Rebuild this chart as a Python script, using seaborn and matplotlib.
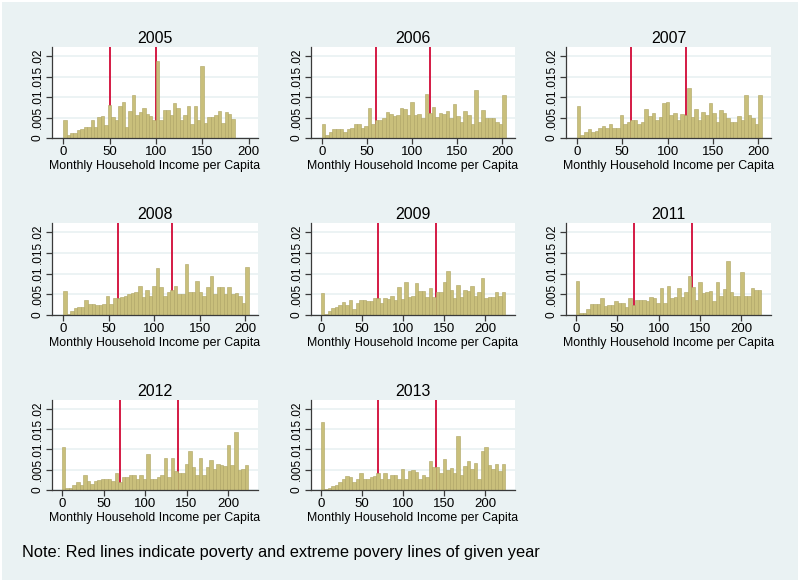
import numpy as np
import pandas as pd
import seaborn as sns
import matplotlib.pyplot as plt
from matplotlib.patches import Rectangle

# bar heights (density), one list per survey year
d2005 = [0.0043, 0.0007, 0.0012, 0.0012, 0.0019, 0.0022, 0.0027, 0.0028, 0.0043, 0.0028,
         0.0052, 0.0054, 0.0032, 0.0081, 0.0051, 0.0045, 0.0078, 0.0087, 0.0028, 0.0066,
         0.0106, 0.0056, 0.0063, 0.0074, 0.0058, 0.0053, 0.0045, 0.0189, 0.0045, 0.0069,
         0.0069, 0.0056, 0.0085, 0.0074, 0.0045, 0.0056, 0.0079, 0.0035, 0.0077, 0.0043,
         0.0175, 0.0037, 0.0051, 0.0051, 0.0056, 0.0066, 0.0036, 0.0063, 0.0059, 0.0046]
d2006 = [0.0033, 0.0008, 0.0015, 0.0022, 0.0022, 0.0022, 0.0015, 0.0022, 0.0025, 0.0035,
         0.0033, 0.0025, 0.0030, 0.0072, 0.0035, 0.0043, 0.0043, 0.0048, 0.0063, 0.0058,
         0.0053, 0.0055, 0.0073, 0.0071, 0.0055, 0.0088, 0.0055, 0.0058, 0.0048, 0.0107,
         0.0060, 0.0075, 0.0051, 0.0060, 0.0058, 0.0065, 0.0048, 0.0083, 0.0053, 0.0038,
         0.0065, 0.0055, 0.0035, 0.0116, 0.0038, 0.0068, 0.0048, 0.0050, 0.0050, 0.0038,
         0.0033, 0.0106]
d2007 = [0.0077, 0.0008, 0.0015, 0.0023, 0.0015, 0.0018, 0.0025, 0.0030, 0.0025, 0.0033,
         0.0025, 0.0025, 0.0056, 0.0035, 0.0040, 0.0045, 0.0045, 0.0035, 0.0040, 0.0071,
         0.0053, 0.0061, 0.0043, 0.0051, 0.0085, 0.0087, 0.0055, 0.0061, 0.0043, 0.0058,
         0.0055, 0.0123, 0.0051, 0.0071, 0.0045, 0.0063, 0.0055, 0.0085, 0.0060, 0.0040,
         0.0068, 0.0060, 0.0048, 0.0040, 0.0040, 0.0053, 0.0043, 0.0104, 0.0055, 0.0048,
         0.0033, 0.0106]
d2008 = [0.0058, 0.0003, 0.0010, 0.0017, 0.0019, 0.0019, 0.0035, 0.0027, 0.0027, 0.0025,
         0.0023, 0.0027, 0.0047, 0.0027, 0.0040, 0.0041, 0.0043, 0.0047, 0.0051, 0.0053,
         0.0055, 0.0071, 0.0043, 0.0061, 0.0047, 0.0071, 0.0113, 0.0067, 0.0045, 0.0055,
         0.0060, 0.0070, 0.0050, 0.0051, 0.0123, 0.0055, 0.0055, 0.0081, 0.0055, 0.0045,
         0.0067, 0.0095, 0.0051, 0.0067, 0.0067, 0.0051, 0.0067, 0.0051, 0.0053, 0.0045,
         0.0030, 0.0115]
d2009 = [0.0053, 0.0003, 0.0010, 0.0017, 0.0020, 0.0025, 0.0032, 0.0023, 0.0035, 0.0015,
         0.0030, 0.0035, 0.0035, 0.0033, 0.0033, 0.0040, 0.0040, 0.0028, 0.0040, 0.0038,
         0.0045, 0.0035, 0.0068, 0.0038, 0.0080, 0.0043, 0.0047, 0.0077, 0.0057, 0.0057,
         0.0043, 0.0065, 0.0043, 0.0055, 0.0055, 0.0080, 0.0105, 0.0060, 0.0040, 0.0073,
         0.0043, 0.0060, 0.0057, 0.0070, 0.0045, 0.0055, 0.0090, 0.0040, 0.0043, 0.0043,
         0.0055, 0.0045, 0.0055]
d2011 = [0.0082, 0.0005, 0.0005, 0.0015, 0.0027, 0.0027, 0.0027, 0.0040, 0.0022, 0.0025,
         0.0025, 0.0033, 0.0030, 0.0030, 0.0020, 0.0040, 0.0025, 0.0037, 0.0035, 0.0035,
         0.0033, 0.0043, 0.0040, 0.0030, 0.0065, 0.0030, 0.0070, 0.0040, 0.0043, 0.0065,
         0.0043, 0.0055, 0.0093, 0.0068, 0.0037, 0.0080, 0.0052, 0.0055, 0.0058, 0.0033,
         0.0080, 0.0045, 0.0062, 0.0130, 0.0055, 0.0047, 0.0047, 0.0103, 0.0047, 0.0045,
         0.0065, 0.0060, 0.0060]
d2012 = [0.0106, 0.0005, 0.0005, 0.0013, 0.0020, 0.0013, 0.0036, 0.0023, 0.0016, 0.0023,
         0.0025, 0.0028, 0.0028, 0.0028, 0.0023, 0.0041, 0.0020, 0.0031, 0.0033, 0.0038,
         0.0038, 0.0028, 0.0038, 0.0026, 0.0090, 0.0028, 0.0028, 0.0033, 0.0038, 0.0080,
         0.0033, 0.0080, 0.0046, 0.0043, 0.0043, 0.0065, 0.0095, 0.0057, 0.0036, 0.0080,
         0.0038, 0.0057, 0.0075, 0.0052, 0.0065, 0.0062, 0.0059, 0.0110, 0.0062, 0.0143,
         0.0049, 0.0052, 0.0062]
d2013 = [0.0167, 0.0003, 0.0005, 0.0010, 0.0013, 0.0020, 0.0028, 0.0034, 0.0031, 0.0020,
         0.0026, 0.0041, 0.0026, 0.0026, 0.0033, 0.0034, 0.0041, 0.0026, 0.0043, 0.0028,
         0.0038, 0.0036, 0.0026, 0.0053, 0.0028, 0.0046, 0.0049, 0.0045, 0.0028, 0.0038,
         0.0031, 0.0071, 0.0057, 0.0057, 0.0041, 0.0077, 0.0049, 0.0054, 0.0043, 0.0133,
         0.0038, 0.0060, 0.0071, 0.0052, 0.0067, 0.0028, 0.0095, 0.0105, 0.0062, 0.0052,
         0.0065, 0.0046, 0.0065]

years = ["2005", "2006", "2007", "2008", "2009", "2011", "2012", "2013"]
densities = [d2005, d2006, d2007, d2008, d2009, d2011, d2012, d2013]
income_max = [185, 204, 204, 204, 224, 224, 224, 224]      # upper edge of last bin
poverty_lines = [(50, 100), (60, 120), (60, 120), (60, 120),
                 (70, 140), (70, 140), (70, 140), (70, 140)]
xticks = [0, 50, 100, 150, 200]
yticks = [0, 0.005, 0.01, 0.015, 0.02]
ytick_labels = ["0", ".005", ".01", ".015", ".02"]

sns.set_theme(style="white")
plt.rcParams['font.family'] = ['Liberation Sans', 'DejaVu Sans']

bg = "#EAF2F3"
bar_color = "#C9BF7B"
red = "#D41A44"
axis_color = "#3A3A3A"

fig = plt.figure(figsize=(8, 5.81), dpi=100)
fig.patch.set_facecolor("white")
fig.patches.append(Rectangle((2 / 800, 1 / 581), 796 / 800, 578 / 581,
                             transform=fig.transFigure, facecolor=bg,
                             edgecolor="none", zorder=-5))

W, H = 800, 581
cols = [(52, 258), (311, 515), (566, 771)]
rows = [(47, 138), (223, 315), (400, 490)]

for i, yr in enumerate(years):
    c0, c1 = cols[i % 3]
    r0, r1 = rows[i // 3]
    ax = fig.add_axes([c0 / W, (H - r1) / H, (c1 - c0) / W, (r1 - r0) / H])
    ax.set_facecolor("white")

    vals = densities[i]
    n = len(vals)
    edges = np.linspace(0, income_max[i], n + 1)
    df = pd.DataFrame({"income": (edges[:-1] + edges[1:]) / 2, "density": vals})
    sns.histplot(data=df, x="income", weights="density", bins=edges.tolist(),
                 stat="count", color=bar_color, alpha=1, edgecolor="#ADA362",
                 linewidth=0.4, ax=ax, zorder=2)

    # poverty lines sit behind the bars, as in the original
    for p in poverty_lines[i]:
        ax.axvline(p, color=red, lw=1.4, zorder=1)

    ax.set_ylim(0, 0.0222)
    ax.set_xlim(-12, 210 if income_max[i] < 200 else (214 if income_max[i] < 210 else 236))
    ax.set_yticks(yticks)
    ax.set_yticklabels(ytick_labels, rotation=90, va="center")
    ax.set_xticks(xticks)
    ax.yaxis.grid(True, color=bg, lw=1.3, zorder=0)
    ax.set_axisbelow(True)

    for s in ["top", "right"]:
        ax.spines[s].set_visible(False)
    for s in ["left", "bottom"]:
        ax.spines[s].set_color(axis_color)
        ax.spines[s].set_linewidth(0.9)
    ax.tick_params(axis="both", direction="out", length=4, width=0.9,
                   color=axis_color, labelcolor="black", pad=2)
    ax.tick_params(axis="x", labelsize=9.5)
    ax.tick_params(axis="y", labelsize=8.6)
    ax.tick_params(axis="both", bottom=True, left=True)

    ax.set_title(yr, fontsize=11.5, pad=3, color="black")
    ax.set_xlabel("Monthly Household Income per Capita", fontsize=8.9, labelpad=1,
                  color="black")
    ax.set_ylabel("")

fig.text(22 / W, 1 - 552 / H,
         "Note: Red lines indicate poverty and extreme povery lines of given year",
         fontsize=11.8, va="center", ha="left", color="black")

fig.savefig("out.png", dpi=100, facecolor=fig.get_facecolor())
